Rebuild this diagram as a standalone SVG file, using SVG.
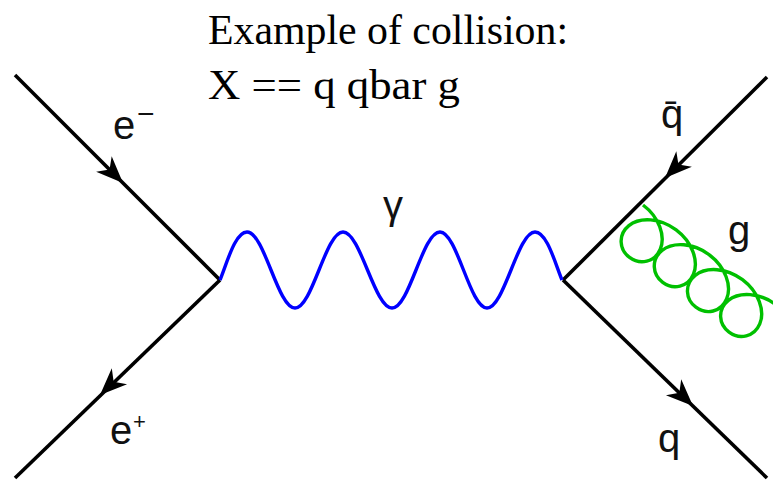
<svg xmlns="http://www.w3.org/2000/svg" width="773" height="480" viewBox="0 0 773 480">
  <style>
    .fermion { stroke: #000; stroke-width: 3.6; fill: none; stroke-linecap: butt; }
    .photon { stroke: #0000ff; stroke-width: 3.4; fill: none; }
    .gluon { stroke: #00c000; stroke-width: 3.4; fill: none; }
    .lbl { font-family: "Liberation Sans", Arial, sans-serif; font-size: 40px; fill: #111; }
    .title { font-family: "Liberation Serif", "Times New Roman", serif; font-size: 43px; fill: #000; }
  </style>
  <defs>
    <path id="arrow" d="M0,0 L-27,-11 L-19,0 L-27,11 Z" fill="#000"/>
  </defs>
  <rect width="773" height="480" fill="#fff"/>

  <g id="title">
    <text class="title" x="208" y="44" textLength="360" lengthAdjust="spacingAndGlyphs">Example of collision:</text>
    <text class="title" x="208" y="99" textLength="252" lengthAdjust="spacingAndGlyphs">X == q qbar g</text>
  </g>

  <g id="connectors">
    <line id="e-minus-line" class="fermion" x1="15" y1="75" x2="220" y2="280"/>
    <line id="e-plus-line" class="fermion" x1="220" y1="280" x2="15" y2="478"/>
    <line id="qbar-line" class="fermion" x1="767" y1="77" x2="563" y2="280"/>
    <line id="q-line" class="fermion" x1="563" y1="280" x2="767" y2="478"/>
    <path id="photon" class="photon" d="M220,280 C227,263 235,232 247,232 C264.4,232 277.6,308 295,308 C312.4,308 325.6,232 343,232 C360.6,232 374.4,308 392,308 C409.6,308 422.4,232 440,232 C457.1,232 469.9,308 487,308 C504.4,308 517.6,232 535,232 C547,232 555,263 562,280"/>
    <g id="gluon" transform="translate(643,205) rotate(36.9)">
      <path class="gluon" d="M0,0 c20.03,0 36.91,11.19 40.37,25 c3.456,13.81 -6.53,25 -19.64,25 c-13.11,0 -23.09,-11.19 -19.63,-25 c3.456,-13.81 20.34,-25 40.37,-25 c20.03,0 36.91,11.19 40.37,25 c3.456,13.81 -6.53,25 -19.64,25 c-13.11,0 -23.09,-11.19 -19.63,-25 c3.456,-13.81 20.34,-25 40.37,-25 c20.03,0 36.91,11.19 40.37,25 c3.456,13.81 -6.53,25 -19.64,25 c-13.11,0 -23.09,-11.19 -19.63,-25 c3.456,-13.81 20.34,-25 40.37,-25 c20.03,0 36.91,11.19 40.37,25 c3.456,13.81 -6.53,25 -19.64,25 c-13.11,0 -23.09,-11.19 -19.63,-25 c3.456,-13.81 20.34,-25 40.37,-25"/>
    </g>
    <use href="#arrow" transform="translate(123,183) rotate(45)"/>
    <use href="#arrow" transform="translate(100,395) rotate(136)"/>
    <use href="#arrow" transform="translate(665,178) rotate(135)"/>
    <use href="#arrow" transform="translate(693,406) rotate(44)"/>
  </g>

  <g id="label-e-minus">
    <text class="lbl" x="113" y="139">e<tspan x="137" y="124" font-size="30">−</tspan></text>
  </g>
  <g id="label-e-plus">
    <text class="lbl" x="110" y="444">e<tspan x="133" y="429" font-size="22">+</tspan></text>
  </g>
  <g id="label-gamma">
    <text class="lbl" x="383" y="219" font-size="32">γ</text>
  </g>
  <g id="label-qbar">
    <text class="lbl" x="661" y="128">q̄</text>
  </g>
  <g id="label-g">
    <text class="lbl" x="728" y="244">g</text>
  </g>
  <g id="label-q">
    <text class="lbl" x="658" y="452">q</text>
  </g>
</svg>
